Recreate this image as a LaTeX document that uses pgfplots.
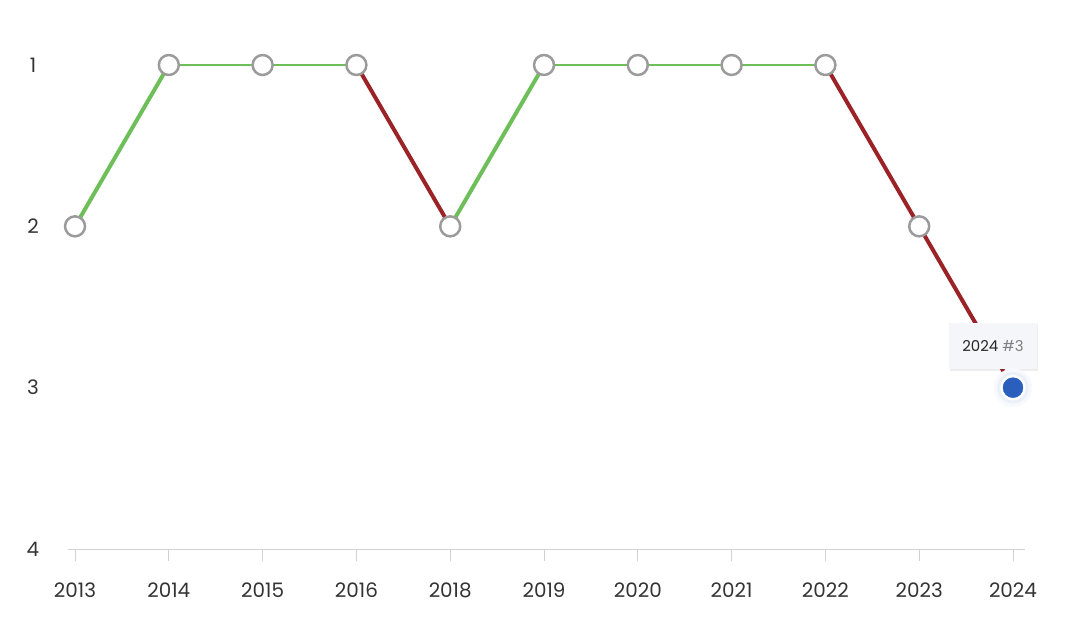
\documentclass[border=0pt]{standalone}
\usepackage{pgfplots}
\pgfplotsset{compat=1.18}
\usepackage{fontspec}
\setmainfont{Poppins}
\definecolor{upgreen}{RGB}{110,190,90}
\definecolor{downred}{RGB}{155,35,40}
\definecolor{gridgray}{RGB}{226,226,226}
\definecolor{axisgray}{RGB}{210,210,210}
\definecolor{markgray}{RGB}{155,155,155}
\definecolor{tickgray}{RGB}{51,51,51}
\definecolor{dotblue}{RGB}{43,95,190}
\definecolor{tipfill}{RGB}{244,246,250}
\begin{document}
\begin{tikzpicture}
\begin{axis}[
  scale only axis,
  width=957bp, height=484bp,
  xmin=-0.075, xmax=10.128,
  ymin=1, ymax=4,
  y dir=reverse,
  clip=false,
  axis line style={draw=none},
  axis x line*=bottom,
  axis y line=none,
  xtick={0,...,10},
  xticklabels={2013,2014,2015,2016,2018,2019,2020,2021,2022,2023,2024},
  xtick style={draw=axisgray, line width=1pt},
  major tick length=12bp,
  tick align=outside,
  xticklabel style={font=\fontsize{20}{22}\selectfont, text=tickgray, yshift=-18bp},
  ytick={1,2,3,4},
  ymajorgrids,
  grid style={gridgray, line width=0.8pt},
  every axis plot/.append style={line join=round, line cap=round},
]
\foreach \v in {1,2,3,4}{
  \edef\tmp{\noexpand\node[font=\noexpand\fontsize{20}{22}\noexpand\selectfont, text=tickgray, anchor=center] at (axis cs:-0.075,\v) [xshift=-35bp] {\v};}
  \tmp
}
\draw[axisgray, line width=1pt] (axis cs:-0.075,4) -- (axis cs:10.128,4);
% segments
\addplot[upgreen, line width=4pt] coordinates {(0,2) (1,1)};
\addplot[upgreen, line width=2.5pt] coordinates {(1,1) (3,1)};
\addplot[downred, line width=4pt] coordinates {(3,1) (4,2)};
\addplot[upgreen, line width=4pt] coordinates {(4,2) (5,1)};
\addplot[upgreen, line width=2.5pt] coordinates {(5,1) (8,1)};
\addplot[downred, line width=4pt] coordinates {(8,1) (9,2) (10,3)};
% markers
\addplot[only marks, mark=*, mark size=10bp, mark options={fill=white, draw=markgray, line width=2.5pt}]
  coordinates {(0,2) (1,1) (2,1) (3,1) (4,2) (5,1) (6,1) (7,1) (8,1) (9,2)};
\addplot[only marks, mark=*, mark size=19bp, color=dotblue!4, mark options={fill=dotblue!4, draw=dotblue!4}]
  coordinates {(10,3)};
\addplot[only marks, mark=*, mark size=15.5bp, color=dotblue!9, mark options={fill=dotblue!9, draw=dotblue!9}]
  coordinates {(10,3)};
\addplot[only marks, mark=*, mark size=12.5bp, color=white, mark options={fill=white, draw=white}]
  coordinates {(10,3)};
\addplot[only marks, mark=*, mark size=10bp, color=dotblue, mark options={fill=dotblue, draw=dotblue}]
  coordinates {(10,3)};
% tooltip
\fill[black, opacity=0.07] (axis cs:9.787,2.742) ++(-43bp,-25bp) rectangle ++(88bp,47bp);
\fill[tipfill] (axis cs:9.787,2.742) ++(-44bp,-23bp) rectangle ++(88bp,46bp);
\fill[tipfill] (axis cs:10,2.742) ++(-7bp,-22.5bp) -- ++(14bp,0bp) -- ++(-7bp,-8bp) -- cycle;
\node[font=\fontsize{15}{17}\selectfont, anchor=center] at (axis cs:9.787,2.742)
  {\textcolor{black!85}{2024} \textcolor{black!50}{\#3}};
\end{axis}
\pgfresetboundingbox
\path[use as bounding box] ([xshift=-68bp,yshift=-74bp]current axis.south west) rectangle ([xshift=55bp,yshift=65bp]current axis.north east);
\end{tikzpicture}
\end{document}
